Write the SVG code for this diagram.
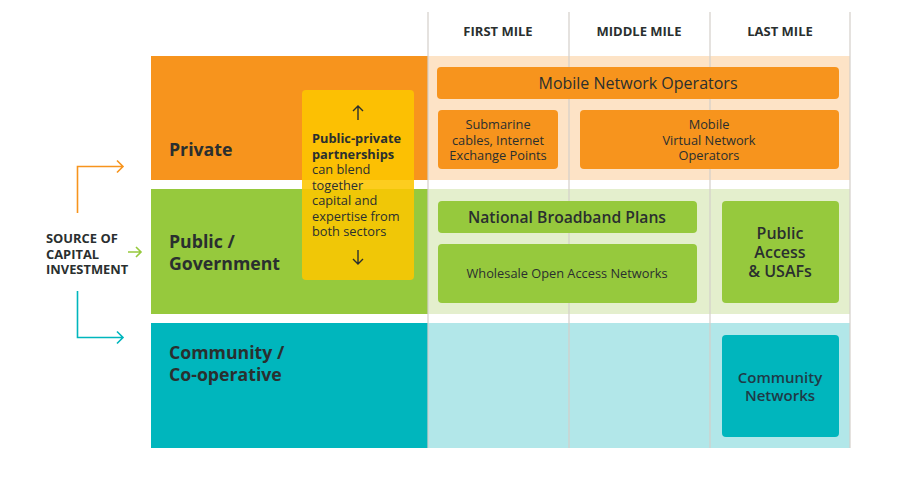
<svg xmlns="http://www.w3.org/2000/svg" width="898" height="491" viewBox="0 0 898 491">
<style>
text{font-family:"Open Sans","Liberation Sans",sans-serif;fill:#2a2f2f}
.hd{font-size:13px;font-weight:700;text-anchor:middle}
.row{font-size:17.7px;font-weight:700}
.c{text-anchor:middle}
.b{font-weight:600}
.col{stroke:#d4cfca;stroke-width:1.2}
.arr{fill:none;stroke-width:1.6}
.p{font-size:12.8px}
.s{font-size:12.8px;font-weight:700}
</style>
<rect width="898" height="491" fill="#ffffff"/>
<g id="bands">
<rect x="151" y="56" width="277" height="124" fill="#f7941d"/>
<rect x="428" y="56" width="422" height="124" fill="#fde3c6"/>
<rect x="151" y="189" width="277" height="125" fill="#96c93d"/>
<rect x="428" y="189" width="422" height="125" fill="#e4efcd"/>
<rect x="151" y="323" width="277" height="125" fill="#00b6bd"/>
<rect x="428" y="323" width="422" height="125" fill="#b2e7e9"/>
</g>
<g id="columns">
<line class="col" x1="428" y1="12" x2="428" y2="448"/>
<line class="col" x1="569" y1="12" x2="569" y2="448"/>
<line class="col" x1="710" y1="12" x2="710" y2="448"/>
<line class="col" x1="850" y1="12" x2="850" y2="448"/>
<text class="hd" x="498" y="36">FIRST MILE</text>
<text class="hd" x="639" y="36">MIDDLE MILE</text>
<text class="hd" x="780" y="36">LAST MILE</text>
</g>
<g id="row-labels">
<text class="row" x="169" y="156">Private</text>
<text class="row" x="169" y="248">Public /</text>
<text class="row" x="169" y="270">Government</text>
<text class="row" x="169" y="359">Community /</text>
<text class="row" x="169" y="381">Co-operative</text>
</g>
<g id="mno">
<rect x="437" y="67" width="402" height="32" rx="4" fill="#f7941d"/>
<text class="c" x="638" y="89" font-size="16">Mobile Network Operators</text>
</g>
<g id="submarine">
<rect x="438" y="110" width="120" height="59" rx="4" fill="#f7941d"/>
<text class="c p" x="498" y="129">Submarine</text>
<text class="c p" x="498" y="144.5">cables, Internet</text>
<text class="c p" x="498" y="160">Exchange Points</text>
</g>
<g id="mvno">
<rect x="580" y="110" width="259" height="59" rx="4" fill="#f7941d"/>
<text class="c p" x="709" y="129">Mobile</text>
<text class="c p" x="709" y="144.5">Virtual Network</text>
<text class="c p" x="709" y="160">Operators</text>
</g>
<g id="nbp">
<rect x="438" y="201" width="259" height="32" rx="4" fill="#96c93d"/>
<text class="c b" x="567" y="223" font-size="15.7">National Broadband Plans</text>
</g>
<g id="wholesale">
<rect x="438" y="244" width="259" height="59" rx="4" fill="#96c93d"/>
<text class="c p" x="567" y="278">Wholesale Open Access Networks</text>
</g>
<g id="public-access">
<rect x="722" y="201" width="117" height="102" rx="4" fill="#96c93d"/>
<text class="c b" x="780" y="239" font-size="16">Public</text>
<text class="c b" x="780" y="258" font-size="16">Access</text>
<text class="c b" x="780" y="277" font-size="16">&amp; USAFs</text>
</g>
<g id="community-networks">
<rect x="722" y="335" width="117" height="102" rx="4" fill="#00b6bd"/>
<text class="c b" x="780" y="383" font-size="15" style="fill:#1f3a47">Community</text>
<text class="c b" x="780" y="401" font-size="15" style="fill:#1f3a47">Networks</text>
</g>
<g id="ppp">
<rect x="302" y="90" width="112" height="190" rx="4" fill="#fdc600" fill-opacity="0.88"/>
<path d="M358 120V106M353 111L358 106L363 111" fill="none" stroke="#2a2f2f" stroke-width="1.4"/>
<path d="M358 250V264M353 259L358 264L363 259" fill="none" stroke="#2a2f2f" stroke-width="1.4"/>
<text class="s" x="312" y="143">Public-private</text>
<text class="s" x="312" y="158.5">partnerships</text>
<text class="p" x="312" y="174">can blend</text>
<text class="p" x="312" y="189.5">together</text>
<text class="p" x="312" y="205">capital and</text>
<text class="p" x="312" y="220.5">expertise from</text>
<text class="p" x="312" y="236">both sectors</text>
</g>
<g id="source">
<text x="46" y="243" font-size="12.9" font-weight="700">SOURCE OF</text>
<text x="46" y="258.5" font-size="12.9" font-weight="700">CAPITAL</text>
<text x="46" y="274" font-size="12.9" font-weight="700">INVESTMENT</text>
</g>
<g id="connectors">
<path class="arr" stroke="#f7941d" d="M77.5 213V166.5H123M117 160.5L123 166.5L117 172.5"/>
<path class="arr" stroke="#96c93d" d="M128 252H141M136 247L141 252L136 257"/>
<path class="arr" stroke="#00b6bd" d="M77.5 291V337.5H123M117 331.5L123 337.5L117 343.5"/>
</g>
</svg>
